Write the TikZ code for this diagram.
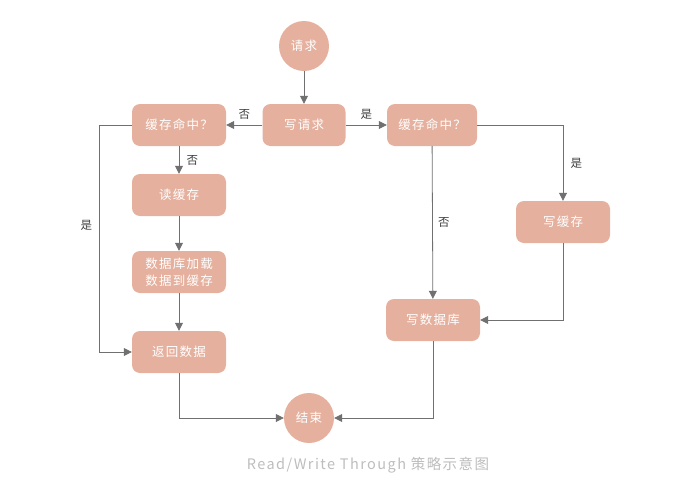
\documentclass[tikz,border=0pt]{standalone}
\usepackage{fontspec}
\setmainfont{Noto Sans CJK SC}
\newfontfamily\handfont[LetterSpace=10]{Noto Sans CJK SC}
\usetikzlibrary{arrows.meta,positioning}
\definecolor{boxfill}{HTML}{E5B09E}
\definecolor{linegray}{HTML}{707070}
\definecolor{captiongray}{HTML}{BDBDBD}
\tikzset{stepbox/.style={rounded corners=8pt, fill=boxfill, draw=none, text=white, minimum width=94pt, minimum height=42pt, inner sep=2pt, align=center, font=\handfont\fontsize{12.5}{17}\selectfont}}
\tikzset{endpoint/.style={circle, fill=boxfill, draw=none, text=white, minimum size=50pt, inner sep=0pt, font=\handfont\fontsize{12.5}{14}\selectfont}}
\tikzset{flow/.style={draw=linegray, line width=0.8pt, -{Triangle[width=8pt,length=8pt]}}}
\tikzset{lbl/.style={text=black!75, font=\fontsize{11.5}{13}\selectfont}}

\begin{document}
\begin{tikzpicture}[x=1pt, y=-1pt]
    \useasboundingbox (0, 0) rectangle (673, 493);

    \node[endpoint] (req) at (304, 46) {请求};
    \node[stepbox, minimum width=83pt] (wreq) at (304, 125) {写请求};
    \node[stepbox] (lhit) at (179, 125) {缓存命中？};
    \node[stepbox, minimum width=90pt] (rhit) at (432, 125) {缓存命中？};

    \node[stepbox] (rcache) at (179, 195) {读缓存};
    \node[stepbox] (load) at (179, 272) {数据库加载\\数据到缓存};
    \node[stepbox] (ret) at (179, 352) {返回数据};

    \node[stepbox] (wcache) at (563, 222) {写缓存};
    \node[stepbox] (wdb) at (433, 320) {写数据库};

    \node[endpoint] (done) at (309, 418) {结束};

    \node[text=captiongray, font=\handfont\fontsize{14.5}{16}\selectfont] (cap) at (368, 465) {Read/Write Through 策略示意图};

    \draw[flow] (req) -- (wreq);
    \draw[flow] (wreq) -- node[lbl, above=2pt] {否} (lhit);
    \draw[flow] (wreq) -- node[lbl, above=2pt] {是} (rhit);

    \draw[flow] (lhit) -- node[lbl, right=4pt] {否} (rcache);
    \draw[flow] (rcache) -- (load);
    \draw[flow] (load) -- (ret);
    \draw[flow] (lhit.west) -- ++(-32, 0) |- node[lbl, pos=0.22, left=4pt] {是} (ret.west);
    \draw[flow] (ret.south) |- (done.west);

    \draw[flow] (rhit.east) -| node[lbl, pos=0.75, right=4pt] {是} (wcache.north);
    \draw[flow] (rhit) -- node[lbl, right=2pt] {否} (wdb);
    \draw[flow] (wcache.south) |- (wdb.east);
    \draw[flow] (wdb.south) |- (done.east);
\end{tikzpicture}
\end{document}
